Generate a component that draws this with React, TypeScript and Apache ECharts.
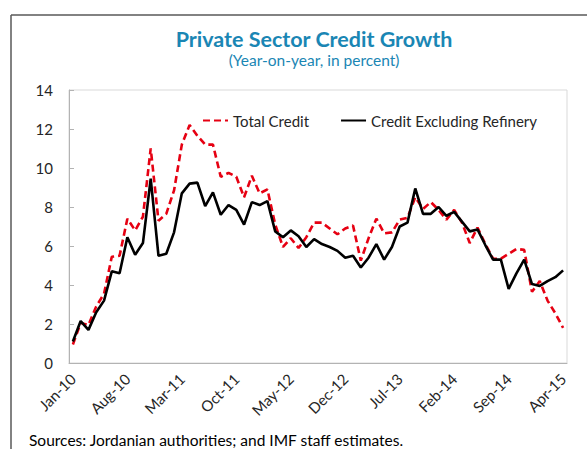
import React, { useEffect, useRef } from "react";
import * as echarts from "echarts";

const categories = [
  "Jan-10","Feb-10","Mar-10","Apr-10","May-10","Jun-10","Jul-10","Aug-10","Sep-10","Oct-10","Nov-10","Dec-10",
  "Jan-11","Feb-11","Mar-11","Apr-11","May-11","Jun-11","Jul-11","Aug-11","Sep-11","Oct-11","Nov-11","Dec-11",
  "Jan-12","Feb-12","Mar-12","Apr-12","May-12","Jun-12","Jul-12","Aug-12","Sep-12","Oct-12","Nov-12","Dec-12",
  "Jan-13","Feb-13","Mar-13","Apr-13","May-13","Jun-13","Jul-13","Aug-13","Sep-13","Oct-13","Nov-13","Dec-13",
  "Jan-14","Feb-14","Mar-14","Apr-14","May-14","Jun-14","Jul-14","Aug-14","Sep-14","Oct-14","Nov-14","Dec-14",
  "Jan-15","Feb-15","Mar-15","Apr-15",
];

const totalCredit = [
  0.95, 2.05, 1.95, 2.9, 3.55, 5.45, 5.5, 7.4, 6.8, 7.5, 11.0, 7.3,
  7.65, 8.85, 11.2, 12.2, 11.65, 11.2, 11.2, 9.55, 9.75, 9.55, 8.5, 9.6,
  8.7, 8.9, 7.1, 5.95, 6.4, 5.9, 6.45, 7.2, 7.2, 6.9, 6.6, 6.9,
  7.05, 5.25, 6.4, 7.4, 6.65, 6.7, 7.35, 7.45, 8.5, 7.9, 8.25, 7.85,
  7.35, 7.85, 7.2, 6.15, 6.95, 6.1, 5.35, 5.35, 5.6, 5.85, 5.8, 3.65,
  4.2, 3.2, 2.55, 1.8,
];

const exRefinery = [
  1.1, 2.15, 1.7, 2.6, 3.2, 4.7, 4.6, 6.45, 5.55, 6.15, 9.45, 5.5,
  5.6, 6.7, 8.7, 9.2, 9.25, 8.05, 8.75, 7.6, 8.1, 7.85, 7.1, 8.25,
  8.1, 8.3, 6.75, 6.45, 6.8, 6.5, 5.95, 6.35, 6.1, 5.95, 5.75, 5.4,
  5.5, 4.9, 5.4, 6.1, 5.3, 5.95, 7.0, 7.2, 8.95, 7.65, 7.65, 8.0,
  7.55, 7.75, 7.25, 6.75, 6.85, 6.05, 5.3, 5.3, 3.8, 4.6, 5.3, 4.05,
  3.95, 4.2, 4.4, 4.75,
];

const FONT = "Lato, 'Open Sans', sans-serif";
const TEXT = "#262626";

export default function App() {
  const ref = useRef<HTMLDivElement>(null);

  useEffect(() => {
    if (!ref.current) return;
    const chart = echarts.init(ref.current, null, { renderer: "svg" });
    chart.setOption({
      animation: false,
      backgroundColor: "#ffffff",
      textStyle: { fontFamily: FONT },
      title: [
        {
          text: "Private Sector Credit Growth",
          left: 309,
          top: 23,
          textAlign: "center",
          textStyle: { fontFamily: FONT, fontSize: 21.5, fontWeight: "bold", color: "#1a86b4" },
        },
        {
          text: "(Year-on-year, in percent)",
          left: 309,
          top: 47,
          textAlign: "center",
          textStyle: { fontFamily: FONT, fontSize: 15.5, fontWeight: "normal", color: "#1a86b4" },
        },
      ],
      legend: {
        left: 197,
        top: 108,
        itemWidth: 25,
        itemHeight: 14,
        itemGap: 31,
        itemStyle: { opacity: 0 },
        textStyle: { fontFamily: FONT, fontSize: 15, color: TEXT },
        data: ["Total Credit", "Credit Excluding Refinery"],
      },
      grid: {
        left: 69,
        right: 20,
        top: 90,
        bottom: 86,
        show: true,
        borderColor: "#d9d9d9",
        borderWidth: 1,
        backgroundColor: "transparent",
      },
      xAxis: {
        type: "category",
        data: categories,
        boundaryGap: true,
        axisLine: { lineStyle: { color: "#b3b3b3", width: 1 } },
        axisTick: { inside: true, length: 4, interval: 6, lineStyle: { color: "#b3b3b3" } },
        axisLabel: {
          interval: 6,
          rotate: 45,
          margin: 13,
          fontFamily: FONT,
          fontSize: 15,
          color: TEXT,
        },
        splitLine: { show: false },
      },
      yAxis: {
        type: "value",
        min: 0,
        max: 14,
        interval: 2,
        axisLine: { show: true, lineStyle: { color: "#b3b3b3", width: 1 } },
        axisTick: { show: true, inside: true, length: 5, lineStyle: { color: "#b3b3b3" } },
        axisLabel: { margin: 16, fontFamily: FONT, fontSize: 15, color: TEXT },
        splitLine: { show: false },
      },
      graphic: [
        { type: "line", shape: { x1: 11, y1: 15, x2: 587, y2: 15 }, style: { stroke: "#595959", lineWidth: 1.5 } },
        { type: "line", shape: { x1: 11, y1: 15, x2: 11, y2: 449 }, style: { stroke: "#595959", lineWidth: 1.5 } },
        {
          type: "text",
          left: 29,
          top: 432,
          style: {
            text: "Sources: Jordanian authorities; and IMF staff estimates.",
            fontFamily: FONT,
            fontSize: 15.5,
            fill: "#000000",
          },
        },
      ],
      series: [
        {
          name: "Total Credit",
          type: "line",
          data: totalCredit,
          symbol: "none",
          z: 2,
          lineStyle: { color: "#e60012", width: 2.6, type: [7, 4] },
          itemStyle: { color: "#e60012" },
        },
        {
          name: "Credit Excluding Refinery",
          type: "line",
          data: exRefinery,
          symbol: "none",
          z: 3,
          lineStyle: { color: "#000000", width: 2.6 },
          itemStyle: { color: "#000000" },
        },
      ],
    });
    return () => chart.dispose();
  }, []);

  return (
    <div
      ref={ref}
      style={{ position: "fixed", left: 0, top: 0, width: 587, height: 449, background: "#fff" }}
    />
  );
}
